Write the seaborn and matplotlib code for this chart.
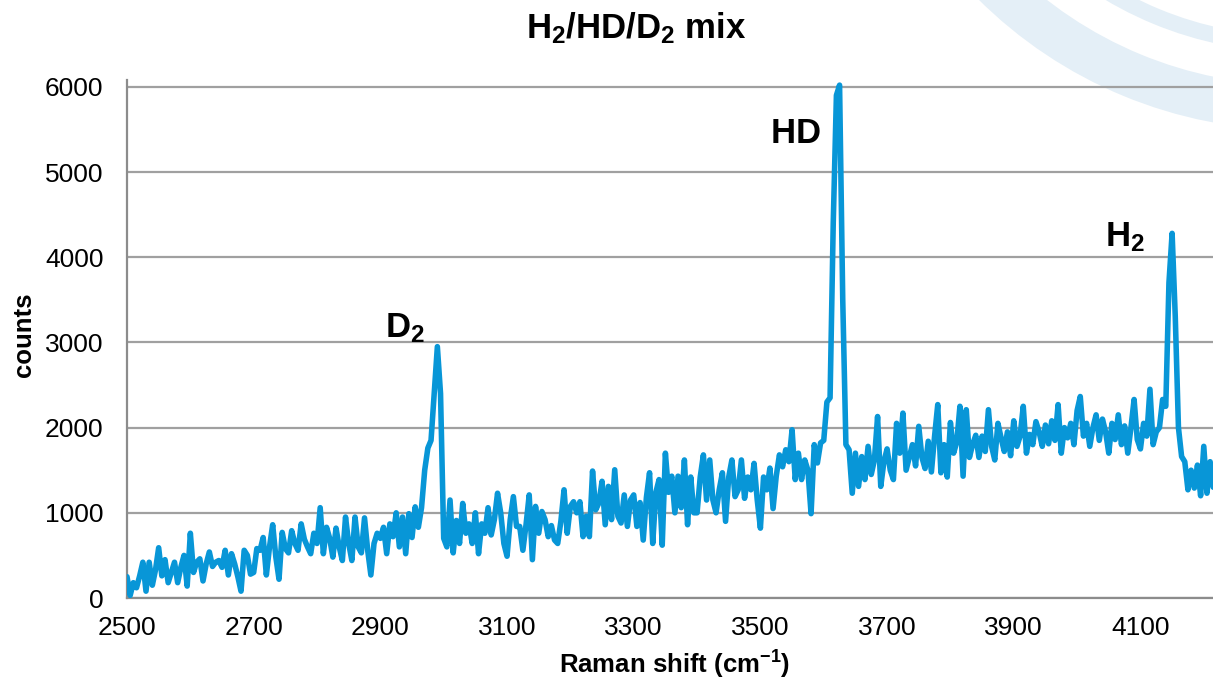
import numpy as np
import pandas as pd
import matplotlib
matplotlib.use("Agg")
import matplotlib.pyplot as plt
import seaborn as sns
from matplotlib.ticker import FixedLocator, MultipleLocator
from matplotlib.patches import Wedge
from matplotlib.transforms import IdentityTransform

# ---------------- data ----------------
shift_start = 2500
shift_step = 5

counts_2500 = [250, 30, 180, 120, 260, 420, 80, 420, 150, 330, 590, 260, 450, 180, 300, 420, 180, 360, 500, 140]
counts_2600 = [760, 300, 420, 460, 200, 400, 540, 370, 420, 440, 360, 560, 270, 520, 400, 250, 80, 560, 500, 280]
counts_2700 = [300, 580, 560, 710, 270, 600, 860, 480, 220, 770, 580, 530, 790, 640, 560, 870, 690, 600, 520, 760]
counts_2800 = [640, 1060, 520, 830, 700, 480, 820, 600, 440, 950, 640, 440, 950, 600, 530, 940, 560, 270, 640, 760]
counts_2900 = [700, 830, 520, 870, 720, 1000, 600, 950, 520, 990, 710, 1070, 830, 1060, 1500, 1760, 1850, 2400, 2950, 2400]
counts_3000 = [700, 600, 1150, 530, 910, 640, 1110, 760, 870, 640, 1000, 520, 870, 760, 1060, 740, 920, 1230, 1000, 640]
counts_3100 = [490, 920, 1190, 840, 840, 560, 860, 1210, 450, 1075, 760, 1015, 920, 720, 850, 680, 640, 900, 1270, 760]
counts_3200 = [1075, 1130, 1000, 1130, 720, 960, 720, 1490, 1035, 1115, 1370, 860, 1310, 920, 1505, 960, 880, 1210, 840, 1150]
counts_3300 = [1210, 840, 1120, 680, 1180, 1470, 640, 1240, 1390, 620, 1700, 1240, 1430, 1000, 1430, 1060, 1620, 860, 1420, 1000]
counts_3400 = [1000, 1420, 1680, 1150, 1620, 1150, 1000, 1270, 1470, 900, 1420, 1620, 1190, 1270, 1620, 1170, 1420, 1270, 1580, 1150]
counts_3500 = [820, 1420, 1270, 1525, 1050, 1430, 1680, 1540, 1740, 1600, 1975, 1390, 1700, 1390, 1620, 1500, 990, 1800, 1585, 1820]
counts_3600 = [1850, 2300, 2350, 4400, 5900, 6020, 3500, 1800, 1740, 1230, 1700, 1310, 1660, 1390, 1780, 1450, 1620, 2130, 1310, 1600]
counts_3700 = [1750, 1500, 1390, 2050, 1700, 2170, 1500, 1650, 1800, 1550, 2015, 1650, 1520, 1840, 1480, 1900, 2270, 1470, 1800, 1420]
counts_3800 = [2060, 1700, 1830, 2250, 1430, 2210, 1650, 1800, 1910, 1650, 1900, 1720, 2210, 1780, 1620, 2050, 1880, 1720, 1950, 1670]
counts_3900 = [2080, 1780, 1900, 2250, 1700, 1920, 1800, 2070, 1950, 1780, 2030, 1810, 2080, 1850, 2270, 1700, 2000, 1880, 2050, 1800]
counts_4000 = [2200, 2365, 1900, 2050, 1780, 2000, 2150, 1850, 2100, 1950, 1700, 2050, 1860, 2150, 1800, 2020, 1700, 2000, 2330, 1860]
counts_4100 = [1750, 2050, 1900, 2450, 1800, 1950, 2000, 2330, 2250, 3700, 4280, 3300, 2000, 1660, 1600, 1270, 1500, 1290, 1560, 1200,
               1780, 1230, 1600, 1300]

x_tick_labels = [2500, 2700, 2900, 3100, 3300, 3500, 3700, 3900, 4100]
y_tick_labels = [0, 1000, 2000, 3000, 4000, 5000, 6000]

peak_names = [r"$\mathbf{D_2}$", r"$\mathbf{HD}$", r"$\mathbf{H_2}$"]
peak_label_x = [2907, 3515, 4044]
peak_label_y = [3063, 5340, 4131]

counts = (counts_2500 + counts_2600 + counts_2700 + counts_2800 + counts_2900 + counts_3000
          + counts_3100 + counts_3200 + counts_3300 + counts_3400 + counts_3500 + counts_3600
          + counts_3700 + counts_3800 + counts_3900 + counts_4000 + counts_4100)
shift = shift_start + shift_step * np.arange(len(counts))
df = pd.DataFrame({"shift": shift, "counts": counts})

# ---------------- style ----------------
sns.set_theme(style="white")
plt.rcParams["font.family"] = ["Liberation Sans", "DejaVu Sans"]
plt.rcParams["mathtext.fontset"] = "custom"
plt.rcParams["mathtext.rm"] = "Liberation Sans"
plt.rcParams["mathtext.bf"] = "Liberation Sans:bold"
plt.rcParams["mathtext.it"] = "Liberation Sans:italic"
plt.rcParams["mathtext.sf"] = "Liberation Sans"

W, H = 1213, 683
fig = plt.figure(figsize=(W / 100, H / 100), dpi=100)
fig.patch.set_facecolor("white")

# light watermark arcs in the top-right corner
wm_color = "#e4eff7"
cx, cy = 1295, H + 319
fig.patches.append(Wedge((cx, cy), 449, 0, 360, width=45, transform=IdentityTransform(),
                         facecolor=wm_color, edgecolor="none", zorder=-5))
fig.patches.append(Wedge((cx, cy), 371, 0, 360, width=16, transform=IdentityTransform(),
                         facecolor=wm_color, edgecolor="none", zorder=-5))

ax = fig.add_axes([127 / W, 1 - 598 / H, 1 - 127 / W, (598 - 80) / H])
ax.set_facecolor("none")

sns.lineplot(data=df, x="shift", y="counts", ax=ax, color="#0896d7", linewidth=4.0,
             zorder=3, solid_joinstyle="round")

ax.set_xlim(2500, 2500 + (W - 127) / 0.6334)
ax.set_ylim(0, 6080)

ax.xaxis.set_major_locator(FixedLocator(x_tick_labels))
ax.xaxis.set_minor_locator(MultipleLocator(50))
ax.yaxis.set_major_locator(FixedLocator(y_tick_labels))
ax.set_xticklabels([str(v) for v in x_tick_labels])
ax.set_yticklabels([str(v) for v in y_tick_labels])

grid_c = "#a0a0a0"
ax.grid(axis="y", color=grid_c, linewidth=1.6, zorder=1)
ax.grid(axis="x", visible=False)
ax.set_axisbelow(True)

for s in ["top", "right"]:
    ax.spines[s].set_visible(False)
for s in ["left", "bottom"]:
    ax.spines[s].set_color("#8c8c8c")
    ax.spines[s].set_linewidth(1.6)
    ax.spines[s].set_zorder(2)

ax.tick_params(axis="x", which="major", direction="inout", length=10, width=1.3,
               color="#8c8c8c", labelsize=19, pad=8, labelcolor="black")
ax.tick_params(axis="x", which="minor", direction="inout", length=7, width=1.1,
               color="#8c8c8c")
ax.tick_params(axis="y", which="major", length=0, labelsize=19, pad=17, labelcolor="black")

ax.set_xlabel("")
ax.set_ylabel("")

for name, lx, ly in zip(peak_names, peak_label_x, peak_label_y):
    ax.text(lx, ly, name, fontsize=25, ha="left", va="baseline", color="black", zorder=4)

fig.text(636 / W, 1 - 38 / H, r"$\mathbf{H_2/HD/D_2\ mix}$", ha="center", va="baseline",
         fontsize=25, color="black")
fig.text(675 / W, 1 - 674 / H, r"Raman shift (cm$^{\mathbf{-1}}$)", ha="center", va="baseline",
         fontsize=18.5, fontweight="bold", color="black")
fig.text(24 / W, 1 - 335 / H, "counts", rotation=90, ha="center", va="center",
         fontsize=18.5, fontweight="bold", color="black")

fig.savefig("out.png", dpi=100)
